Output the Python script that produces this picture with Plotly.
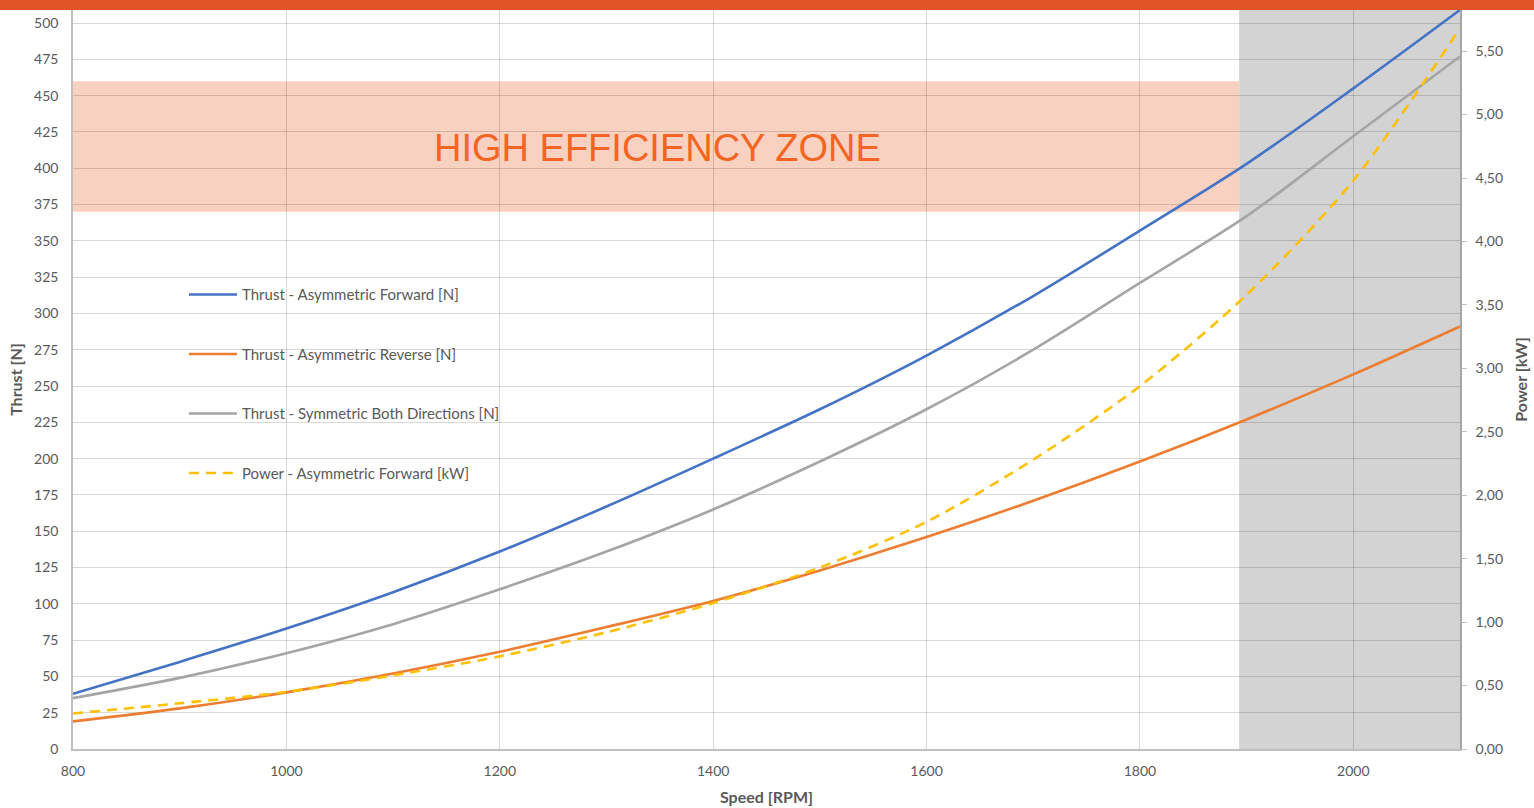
import plotly.graph_objects as go

speed_rpm = [800, 900, 1000, 1100, 1200, 1300, 1400, 1500, 1600, 1700, 1800, 1900, 2000, 2100]
thrust_asym_forward = [38, 60, 83, 108, 136, 167, 200, 234, 271, 312, 357, 403, 455, 509]
thrust_asym_reverse = [19, 28, 39, 52, 67, 84, 102, 123, 146, 171, 198, 227, 258, 291]
thrust_symmetric = [35, 49, 66, 86, 110, 136, 165, 198, 234, 275, 321, 367, 422, 477]
power_asym_forward = [0.28, 0.36, 0.45, 0.58, 0.73, 0.92, 1.15, 1.43, 1.79, 2.28, 2.86, 3.58, 4.48, 5.68]

thrust_ticks = list(range(0, 501, 25))
power_ticks = [i * 0.5 for i in range(12)]
speed_ticks = [800, 1000, 1200, 1400, 1600, 1800, 2000]

zone_speed = [800, 1893]
zone_thrust = [370, 460]
zone_label = "HIGH EFFICIENCY ZONE"
grey_zone_speed = [1893, 2100]

GRID = "rgba(0,0,0,0.15)"
TXT = "#595959"
FONT = "Lato"

fig = go.Figure()
series = [
    ("Thrust - Asymmetric Forward [N]", thrust_asym_forward, "#4472C4", "solid", "y"),
    ("Thrust - Asymmetric Reverse [N]", thrust_asym_reverse, "#ED7D31", "solid", "y"),
    ("Thrust - Symmetric Both Directions [N]", thrust_symmetric, "#A5A5A5", "solid", "y"),
    ("Power - Asymmetric Forward [kW]", power_asym_forward, "#FFC000", "10px,7px", "y2"),
]
for i, (name, vals, col, dash, ax) in enumerate(series):
    fig.add_trace(go.Scatter(
        x=speed_rpm, y=vals, name=name, mode="lines", yaxis=ax,
        line=dict(color=col, width=2.6, dash=dash, shape="spline", smoothing=0.8),
        legendgroup=f"g{i}",
    ))

# grey zone
fig.add_shape(type="rect", xref="x", yref="paper", x0=grey_zone_speed[0], x1=grey_zone_speed[1],
              y0=0, y1=1, fillcolor="#D3D3D3", line_width=0, layer="below")
# high-efficiency zone
fig.add_shape(type="rect", xref="x", yref="y", x0=zone_speed[0], x1=zone_speed[1],
              y0=zone_thrust[0], y1=zone_thrust[1], fillcolor="#F9D1C0", line_width=0, layer="below")
# top orange bar
fig.add_shape(type="rect", xref="paper", yref="paper", x0=-0.06, x1=1.06,
              y0=1, y1=1 + 12 / 739, fillcolor="#E05426", line_width=0, layer="above")

fig.add_annotation(x=1348, y=414, xref="x", yref="y", text=zone_label, showarrow=False,
                   font=dict(family="Liberation Sans, Arial", size=38, color="#F26522"))

fig.update_layout(
    width=1534, height=808,
    margin=dict(l=73, r=74, t=10, b=59, autoexpand=False),
    paper_bgcolor="white", plot_bgcolor="white",
    separators=",.",
    font=dict(family=FONT, size=13, color=TXT),
    showlegend=True,
    legend=dict(x=0.080, y=0.637, xanchor="left", yanchor="top", bgcolor="rgba(0,0,0,0)",
                itemwidth=48, tracegroupgap=37, font=dict(family=FONT, size=15, color=TXT)),
    xaxis=dict(range=[800, 2100], tickvals=speed_ticks, showgrid=True, gridcolor=GRID, gridwidth=1,
               showline=True, linecolor="#BFBFBF", linewidth=1.5, ticks="", zeroline=False,
               ticklabelstandoff=8, automargin=False,
               title=dict(text="<b>Speed [RPM]</b>", font=dict(family=FONT, size=16, color=TXT), standoff=14),
               tickfont=dict(family=FONT, size=14, color=TXT)),
    yaxis=dict(range=[0, 509], tickvals=thrust_ticks, showgrid=True, gridcolor=GRID, gridwidth=1,
               showline=True, linecolor="#BFBFBF", linewidth=1.5, ticks="", zeroline=False,
               ticklabelstandoff=10, automargin=False,
               title=dict(text="<b>Thrust [N]</b>", font=dict(family=FONT, size=16, color=TXT), standoff=7),
               tickfont=dict(family=FONT, size=14, color=TXT)),
    yaxis2=dict(range=[0, 5.824], tickvals=power_ticks, tickformat=".2f", overlaying="y", side="right",
                showgrid=False, zeroline=False, showline=True, linecolor="#A6A6A6", linewidth=1.5,
                ticks="outside", ticklen=5, tickcolor="#BFBFBF", ticklabelstandoff=6, automargin=False,
                title=dict(text="<b>Power [kW]</b>", font=dict(family=FONT, size=16, color=TXT), standoff=14),
                tickfont=dict(family=FONT, size=14, color=TXT)),
)

fig.write_html("out.html", config={"displayModeBar": False},
               post_script="document.body.style.margin='0px';")
